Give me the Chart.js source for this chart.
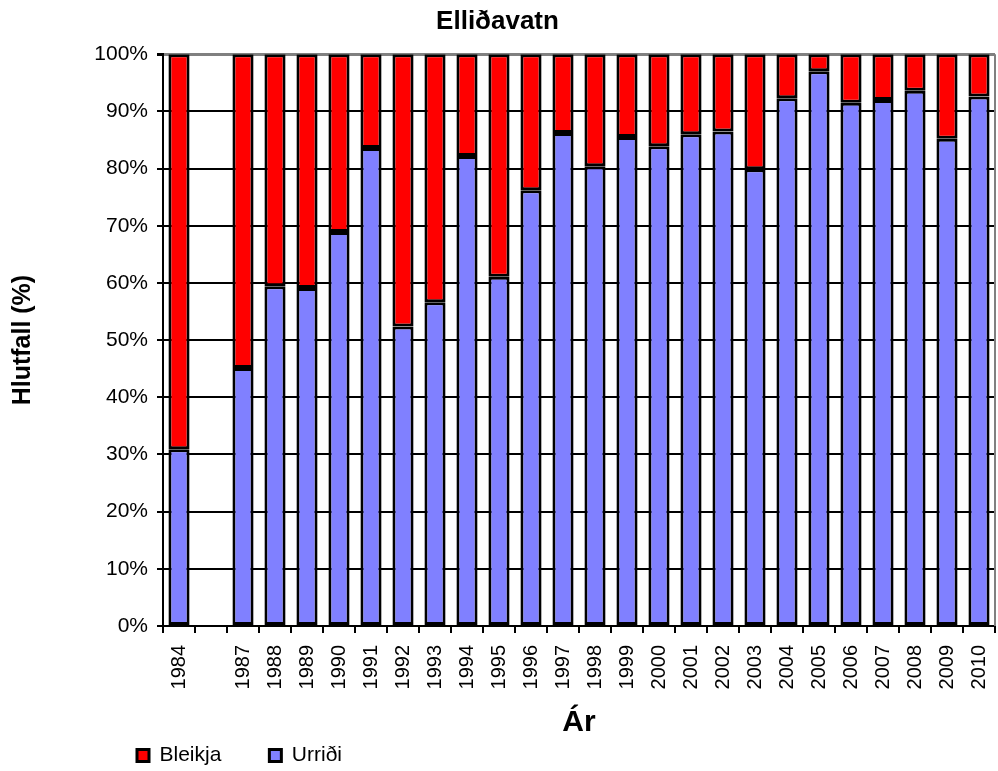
<!DOCTYPE html>
<html>
<head>
<meta charset="utf-8">
<script src="https://cdn.jsdelivr.net/npm/chart.js@4/dist/chart.umd.min.js"></script>
<style>
  html, body { margin: 0; padding: 0; background: #ffffff; }
  #wrap { width: 998px; height: 771px; position: relative; }
</style>
</head>
<body>
<div id="wrap"><canvas id="c"></canvas></div>
<script>
// Categories (the blank slot is the gap between 1984 and 1987)
const years = ['1984', '', '1987', '1988', '1989', '1990', '1991', '1992', '1993', '1994', '1995', '1996', '1997', '1998', '1999', '2000', '2001', '2002', '2003', '2004', '2005', '2006', '2007', '2008', '2009', '2010'];

// Urriði share (%) — bottom, blue
const urridi = [30.9, null, 45.1, 59.4, 59.1, 68.9, 83.6, 52.4, 56.6, 82.2, 61.1, 76.2, 86.2, 80.4, 85.5, 83.9, 86.0, 86.5, 79.9, 92.3, 97.0, 91.5, 92.0, 93.6, 85.2, 92.6];

// Bleikja share (%) — top, red
const bleikja = [69.1, null, 54.9, 40.6, 40.9, 31.1, 16.4, 47.6, 43.4, 17.8, 38.9, 23.8, 13.8, 19.6, 14.5, 16.1, 14.0, 13.5, 20.1, 7.7, 3.0, 8.5, 8.0, 6.4, 14.8, 7.4];

// Y tick values
const yTicks = [0, 10, 20, 30, 40, 50, 60, 70, 80, 90, 100];

const FONT = "'Liberation Sans', Arial, Helvetica, sans-serif";

const framePlugin = {
  id: 'frame',
  beforeDatasetsDraw(chart) {
    const a = chart.chartArea, ctx = chart.ctx;
    ctx.save();
    ctx.strokeStyle = '#808080';
    ctx.lineWidth = 2;
    ctx.beginPath();
    ctx.moveTo(a.right, a.top);
    ctx.lineTo(a.right, a.bottom);
    ctx.stroke();
    ctx.restore();
  },
  afterLayout(chart) {
    const lg = chart.legend;
    if (!lg) return;
    const P = lg.options.labels.padding;
    lg.left = 137 - P;
    lg.top = 745 - P;
  }
};

new Chart(document.getElementById('c'), {
  type: 'bar',
  data: {
    labels: years,
    datasets: [
      {
        label: 'Urriði',
        data: urridi,
        backgroundColor: '#8080FF',
        borderColor: '#000000',
        borderWidth: 3,
        borderSkipped: false,
        inflateAmount: 0,
        barPercentage: 0.66,
        categoryPercentage: 1.0
      },
      {
        label: 'Bleikja',
        data: bleikja,
        backgroundColor: '#FF0000',
        borderColor: '#000000',
        borderWidth: 3,
        borderSkipped: false,
        inflateAmount: 0,
        barPercentage: 0.66,
        categoryPercentage: 1.0
      }
    ]
  },
  options: {
    responsive: true,
    maintainAspectRatio: false,
    animation: false,
    devicePixelRatio: 1,
    layout: { padding: { left: 0, right: 3, top: 0, bottom: 0 } },
    plugins: {
      title: {
        display: true,
        text: 'Elliðavatn',
        color: '#000',
        font: { family: FONT, size: 26, weight: 'bold' },
        padding: { top: 6, bottom: 17 }
      },
      legend: {
        display: true,
        position: 'bottom',
        align: 'start',
        reverse: true,
        maxHeight: 30,
        labels: {
          boxWidth: 12,
          boxHeight: 12,
          padding: 48,
          color: '#000',
          font: { family: FONT, size: 21 }
        }
      },
      tooltip: { enabled: false }
    },
    scales: {
      x: {
        stacked: true,
        offset: true,
        grid: {
          display: true,
          offset: true,
          drawOnChartArea: false,
          drawTicks: true,
          tickLength: 7,
          color: '#000',
          lineWidth: 2
        },
        border: { display: true, color: '#000', width: 2 },
        ticks: {
          autoSkip: false,
          minRotation: 90,
          maxRotation: 90,
          padding: 12,
          color: '#000',
          font: { family: FONT, size: 20 }
        },
        title: {
          display: true,
          text: 'Ár',
          color: '#000',
          font: { family: FONT, size: 30, weight: 'bold' },
          padding: { top: 0, bottom: 0 }
        },
        afterFit(scale) {
          scale.height = 115;
          scale.paddingLeft = 0;
          scale.paddingRight = 0;
        }
      },
      y: {
        stacked: true,
        min: 0,
        max: 100,
        afterBuildTicks(scale) { scale.ticks = yTicks.map(v => ({ value: v })); },
        grid: {
          display: true,
          drawTicks: true,
          tickLength: 6,
          color: (ctx) => (ctx.tick && ctx.tick.value === 100) ? '#808080' : '#000',
          tickColor: '#000',
          lineWidth: (ctx) => (ctx.tick && ctx.tick.value === 100) ? 3 : 2
        },
        border: { display: true, color: '#000', width: 2 },
        ticks: {
          padding: 9,
          color: '#000',
          font: { family: FONT, size: 21 },
          callback: (v) => v + '%'
        },
        title: {
          display: true,
          text: 'Hlutfall (%)',
          color: '#000',
          font: { family: FONT, size: 25, weight: 'bold' },
          padding: { top: 8, bottom: 4 }
        },
        afterFit(scale) { scale.width = 163; }
      }
    }
  },
  plugins: [framePlugin]
});
</script>
</body>
</html>
